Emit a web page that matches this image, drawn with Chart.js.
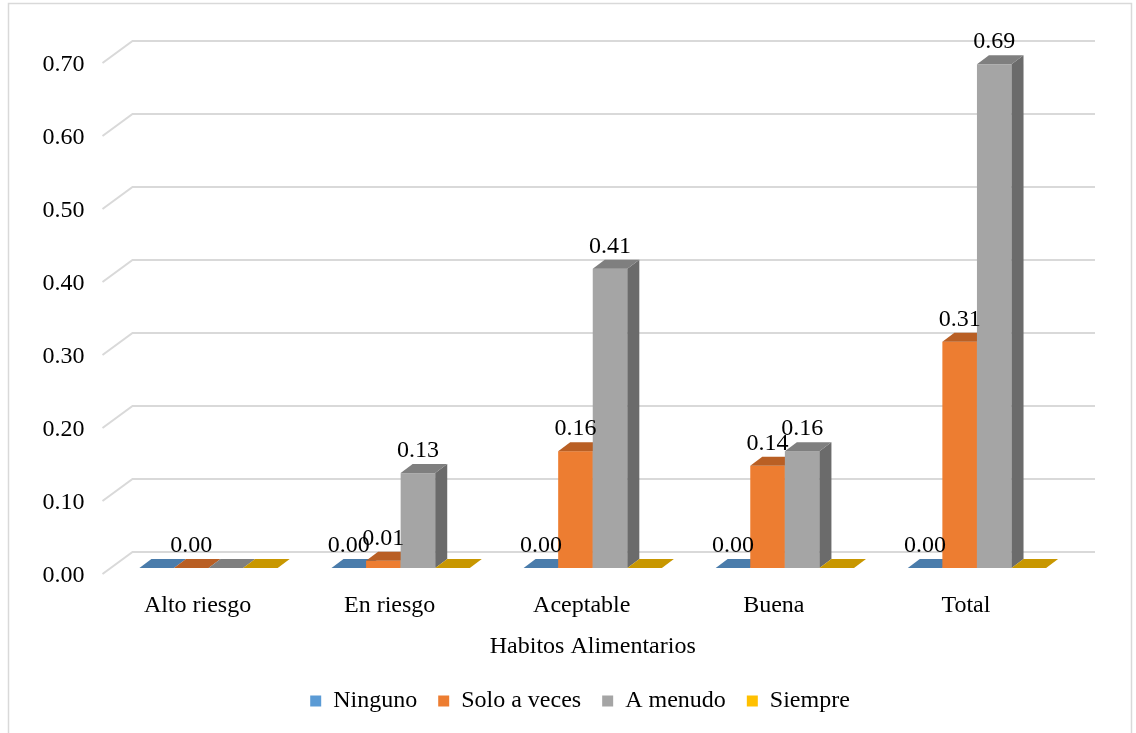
<!DOCTYPE html>
<html>
<head>
<meta charset="utf-8">
<script src="https://cdn.jsdelivr.net/npm/chart.js@4"></script>
<style>
    body { margin: 0; background: #fff; }
</style>
</head>
<body>
<canvas id="habitosChart" width="1136" height="733"></canvas>
<script>
const categories = ['Alto riesgo', 'En riesgo', 'Aceptable', 'Buena', 'Total'];
const ninguno = [0, 0, 0, 0, 0];
const soloAVeces = [0, 0.01, 0.16, 0.14, 0.31];
const aMenudo = [0, 0.13, 0.41, 0.16, 0.69];
const siempre = [0, 0, 0, 0, 0];
// which bars show a value label in the original
const labelsNinguno = [false, true, true, true, true];
const labelsSolo = [true, true, true, true, true];
const labelsMenudo = [false, true, true, true, true];
const labelsSiempre = [false, false, false, false, false];
const yTicks = [0, 0.1, 0.2, 0.3, 0.4, 0.5, 0.6, 0.7];

const serif = '"Liberation Serif", "Times New Roman", serif';
Chart.defaults.font.family = serif;
Chart.defaults.font.size = 24;
Chart.defaults.color = '#000';

// front / top / side shades for the 3d look
const shades = [
    { front: '#5b9bd5', top: '#4a7cab', side: '#3f6b94' },
    { front: '#ed7d31', top: '#b95f24', side: '#a8561f' },
    { front: '#a5a5a5', top: '#7f7f7f', side: '#6b6b6b' },
    { front: '#ffc000', top: '#c89700', side: '#b08500' }
];
const depth = { x: 12, y: -9 };
const wall = { x: 30, y: -22 };

const bars3d = {
    id: 'bars3d',
    afterLayout(chart) {
        // legend sits a bit right of the canvas centre in the original
        chart.legend.left = 87;
    },
    beforeDraw(chart) {
        const ctx = chart.ctx;
        ctx.save();
        ctx.fillStyle = '#fff';
        ctx.fillRect(0, 0, chart.width, chart.height);
        ctx.strokeStyle = '#d9d9d9';
        ctx.lineWidth = 1.5;
        ctx.strokeRect(8.5, 3.5, 1123, 760);
        ctx.restore();
    },
    beforeDatasetsDraw(chart) {
        const ctx = chart.ctx,
            area = chart.chartArea,
            ys = chart.scales.y;

        // gridlines on the back wall with the slanted side
        ctx.save();
        ctx.strokeStyle = '#d9d9d9';
        ctx.lineWidth = 2;
        ys.ticks.forEach(t => {
            const py = ys.getPixelForValue(t.value) + 6;
            ctx.beginPath();
            ctx.moveTo(area.left - 10, py);
            ctx.lineTo(area.left - 10 + wall.x, py + wall.y);
            ctx.lineTo(area.right + 22, py + wall.y);
            ctx.stroke();
        });

        const labels = [];
        for (let i = 0; i < categories.length; i++) {
            chart.data.datasets.forEach((ds, d) => {
                const el = chart.getDatasetMeta(d).data[i];
                const { x, y, base, width } = el.getProps(['x', 'y', 'base', 'width'], true);
                const x0 = x - width / 2, x1 = x + width / 2;
                const c = shades[d];

                if (base - y > 0.5) {
                    ctx.fillStyle = c.front;
                    ctx.fillRect(x0, y, width, base - y);
                    ctx.fillStyle = c.side;
                    ctx.beginPath();
                    ctx.moveTo(x1, y);
                    ctx.lineTo(x1 + depth.x, y + depth.y);
                    ctx.lineTo(x1 + depth.x, base + depth.y);
                    ctx.lineTo(x1, base);
                    ctx.closePath();
                    ctx.fill();
                }
                ctx.fillStyle = c.top;
                ctx.beginPath();
                ctx.moveTo(x0, y);
                ctx.lineTo(x0 + depth.x, y + depth.y);
                ctx.lineTo(x1 + depth.x, y + depth.y);
                ctx.lineTo(x1, y);
                ctx.closePath();
                ctx.fill();

                if (ds.showLabel[i]) {
                    labels.push({ text: ds.data[i].toFixed(2), x: x, y: y - 16 });
                }
            });
        }

        // value labels on top of everything
        ctx.font = '24px ' + serif;
        ctx.textAlign = 'center';
        ctx.textBaseline = 'alphabetic';
        ctx.fillStyle = '#000';
        labels.forEach(l => ctx.fillText(l.text, l.x, l.y));

        ctx.restore();
        return false;
    }
};

new Chart(document.getElementById('habitosChart'), {
    type: 'bar',
    plugins: [bars3d],
    data: {
        labels: categories,
        datasets: [
            { label: 'Ninguno', data: ninguno, showLabel: labelsNinguno, backgroundColor: shades[0].front },
            { label: 'Solo a veces', data: soloAVeces, showLabel: labelsSolo, backgroundColor: shades[1].front },
            { label: 'A menudo', data: aMenudo, showLabel: labelsMenudo, backgroundColor: shades[2].front },
            { label: 'Siempre', data: siempre, showLabel: labelsSiempre, backgroundColor: shades[3].front }
        ]
    },
    options: {
        responsive: false,
        animation: false,
        categoryPercentage: 0.72,
        barPercentage: 1,
        layout: {
            padding: { left: 0, right: 63, top: 57, bottom: 10 }
        },
        plugins: {
            tooltip: { enabled: false },
            legend: {
                position: 'bottom',
                labels: {
                    boxWidth: 11,
                    boxHeight: 11,
                    padding: 21,
                    color: '#000',
                    font: { family: serif, size: 24 }
                }
            }
        },
        scales: {
            x: {
                grid: { display: false, drawTicks: false },
                border: { display: false },
                ticks: {
                    padding: 23,
                    labelOffset: -11,
                    color: '#000',
                    font: { family: serif, size: 24 }
                },
                title: {
                    display: true,
                    text: 'Habitos Alimentarios',
                    color: '#000',
                    font: { family: serif, size: 24 },
                    padding: { top: 0, bottom: 7 }
                },
                afterFit(scale) { scale.height = 100; }
            },
            y: {
                min: 0,
                max: 0.7,
                grid: { display: false, drawTicks: false },
                border: { display: false },
                afterBuildTicks(scale) { scale.ticks = yTicks.map(v => ({ value: v })); },
                afterFit(scale) { scale.width = 112.5; },
                ticks: {
                    padding: 28,
                    labelOffset: 8,
                    color: '#000',
                    font: { family: serif, size: 24 },
                    callback: v => v.toFixed(2)
                }
            }
        }
    }
});
</script>
</body>
</html>
